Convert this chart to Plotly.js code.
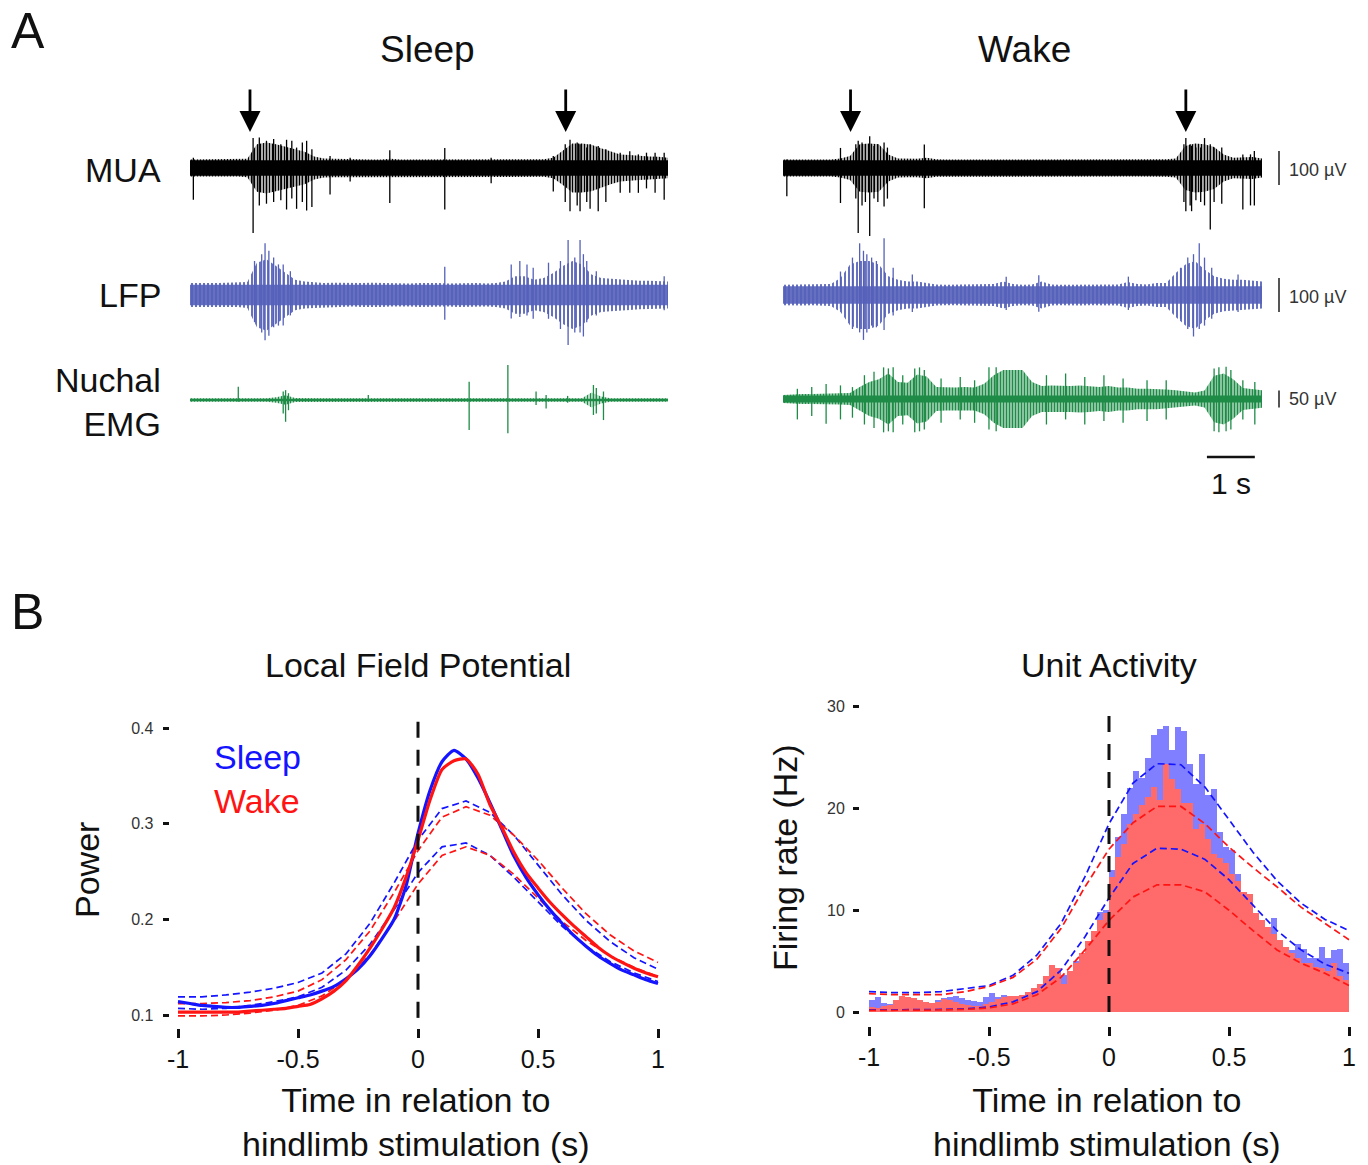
<!DOCTYPE html>
<html><head><meta charset="utf-8">
<script src="https://cdn.plot.ly/plotly-3.0.1.min.js"></script>
<style>html,body{margin:0;padding:0;background:#fff;}#chart{width:1368px;height:1165px;}</style>
</head><body><div id="chart"></div>
<script>
// ================= DATA =================
// Panel A: 10 s raw recordings. Envelope half-widths (µV) every 0.2 s, plus discrete spikes (time s, top µV, bottom µV)
const envStep = 0.2;
const sleepMuaEnv = [25,25,25,26,25,25,27,70,75,70, 62,55,48,34,28,27,26,26,25,25, 25,27,25,25,25,25,26,26,25,25, 25,25,25,25,25,25,26,26,30,50, 72,72,68,58,48,40,38,35,34,33, 30];
const sleepLfpEnv = [35,36,35,35,36,35,38,95,105,85, 65,45,40,38,35,36,35,34,35,36, 35,34,33,34,35,36,35,34,35,36, 35,34,35,40,55,55,45,50,65,85, 100,90,60,50,48,45,44,42,42,40, 40];
const sleepEmgEnv = [5,5,5,5,5,5,5,5,5,8, 14,6,5,5,5,5,5,5,5,5, 5,5,5,5,5,5,5,5,5,6, 5,5,5,5,5,5,6,7,5,5, 5,5,22,10,5,5,5,5,5,5, 5];
const wakeMuaEnv = [25,25,25,25,25,25,28,35,70,72, 70,40,28,27,27,30,26,25,25,25, 25,25,25,25,25,25,25,25,25,25, 25,25,25,25,25,25,25,25,25,25, 26,28,65,72,70,62,40,30,32,32, 28];
const wakeLfpEnv = [30,30,31,30,30,32,50,90,100,100, 90,55,45,40,40,35,31,30,30,31, 30,31,32,40,32,30,31,40,31,30, 30,31,30,31,30,31,38,32,31,35, 35,65,90,100,75,55,48,45,45,42, 40];
const wakeEmgEnv = [12,14,15,15,16,15,16,18,35,50, 58,75,50,48,72,66,35,34,34,35, 34,45,70,85,85,85,50,38,40,38, 38,40,38,35,38,34,34,30,30,30, 28,26,22,19,25,68,75,58,32,30, 26];
// solid background-noise core half-width (µV) of each recording
const coreWidth = {sleepMua:23, sleepLfp:30, sleepEmg:4, wakeMua:23, wakeLfp:26, wakeEmg:10};

const sleepMuaSpikeT  = [0.07,1.32,1.45,1.6,1.75,1.9,2.02,2.13,2.23,2.35,2.44,2.55,2.93,3.35,4.18,5.33,6.3,7.6,7.85,7.95,8.1,8.16,8.3,8.37,8.54,8.7,9.0,9.2,9.38,9.55,9.73,9.92];
const sleepMuaSpikeHi = [30,88,90,80,85,70,83,80,60,75,80,55,35,30,52,59,30,35,70,83,75,70,60,70,65,55,45,49,40,45,45,45];
const sleepMuaSpikeLo = [-93,-191,-110,-105,-100,-95,-122,-90,-120,-100,-125,-115,-78,-40,-103,-122,-45,-69,-100,-127,-110,-127,-100,-120,-127,-100,-73,-73,-73,-60,-73,-93];
const sleepLfpSpikeT  = [1.35,1.5,1.57,1.65,1.75,1.85,1.95,2.1,5.33,6.72,6.9,7.05,7.18,7.5,7.75,7.91,8.05,8.16,8.23,8.3,8.5,9.92];
const sleepLfpSpikeHi = [100,120,152,130,110,90,90,70,83,90,100,90,80,95,100,162,110,162,120,100,70,55];
const sleepLfpSpikeLo = [-80,-110,-133,-120,-95,-90,-90,-60,-73,-69,-65,-60,-70,-70,-100,-147,-110,-110,-122,-80,-60,-45];
const sleepEmgSpikeT  = [1.01,1.95,2.0,2.06,3.73,5.84,6.65,7.24,7.45,7.9,8.44,8.5,8.65];
const sleepEmgSpikeHi = [39,25,29,20,15,54,103,25,15,12,44,35,25];
const sleepEmgSpikeLo = [-5,-40,-64,-30,-5,-88,-98,-15,-25,-8,-44,-40,-59];
const wakeMuaSpikeT  = [0.08,1.2,1.52,1.57,1.65,1.72,1.81,1.9,1.98,2.11,2.18,2.95,8.37,8.41,8.5,8.53,8.62,8.72,8.8,8.92,9.0,9.16,9.6,9.76,9.84];
const wakeMuaSpikeHi = [25,59,70,80,75,70,93,65,70,75,60,69,70,88,70,65,60,60,88,70,60,60,40,40,50];
const wakeMuaSpikeLo = [-83,-103,-90,-191,-110,-100,-200,-90,-100,-113,-90,-118,-100,-127,-110,-127,-95,-100,-110,-181,-100,-105,-122,-110,-110];
const wakeLfpSpikeT  = [1.2,1.45,1.6,1.68,1.75,1.85,1.95,2.11,2.3,2.7,4.66,5.34,7.21,8.3,8.45,8.57,8.69,8.8,8.95,9.5];
const wakeLfpSpikeHi = [69,110,152,130,120,110,100,167,80,60,54,58,54,80,110,120,152,110,80,60];
const wakeLfpSpikeLo = [-40,-100,-110,-132,-110,-90,-95,-103,-60,-50,-44,-49,-44,-70,-100,-122,-100,-90,-70,-50];
const wakeEmgSpikeT  = [0.3,0.6,0.9,1.2,1.45,1.7,1.9,2.1,2.2,2.3,2.5,2.75,2.85,2.95,3.3,3.7,4.0,4.3,4.45,5.5,5.9,6.3,6.7,7.1,7.6,8.0,9.0,9.1,9.25,9.35,9.6,9.85];
const wakeEmgSpikeHi = [30,35,44,40,35,70,80,93,90,93,70,90,93,85,60,65,55,93,93,70,75,65,70,60,55,55,90,93,95,85,55,50];
const wakeEmgSpikeLo = [-60,-50,-73,-60,-55,-75,-85,-98,-95,-98,-75,-98,-95,-90,-70,-60,-70,-90,-95,-75,-60,-75,-65,-70,-65,-60,-95,-98,-95,-90,-60,-75];

const sleepStimTimes = [1.255, 7.86];
const wakeStimTimes = [1.41, 8.41];

// Panel B left: LFP power (0.05 s grid) and dashed bounds (0.1 s grid)
const lfpSleep = [0.114,0.112,0.110,0.109,0.108,0.108,0.109,0.110,0.112,0.115,0.118,0.121,0.125,0.130,0.138,0.148,0.162,0.180,0.200,0.235,0.290,0.335,0.365,0.377,0.368,0.348,0.322,0.294,0.266,0.244,0.226,0.210,0.196,0.183,0.172,0.162,0.154,0.147,0.142,0.137,0.133];
const lfpWake  = [0.103,0.103,0.103,0.103,0.103,0.103,0.104,0.105,0.106,0.107,0.109,0.111,0.117,0.125,0.136,0.152,0.170,0.190,0.212,0.244,0.283,0.325,0.357,0.366,0.368,0.352,0.320,0.296,0.270,0.249,0.233,0.218,0.205,0.193,0.182,0.171,0.162,0.155,0.149,0.144,0.140];
const lfpSleepUp = [0.119,0.119,0.121,0.124,0.128,0.134,0.144,0.164,0.196,0.238,0.283,0.316,0.324,0.312,0.288,0.257,0.226,0.199,0.177,0.160,0.148];
const lfpWakeUp  = [0.112,0.112,0.113,0.115,0.119,0.125,0.137,0.158,0.188,0.228,0.272,0.307,0.318,0.309,0.288,0.262,0.233,0.206,0.184,0.167,0.155];
const lfpSleepLo = [0.107,0.106,0.107,0.110,0.114,0.119,0.129,0.147,0.174,0.210,0.249,0.276,0.280,0.267,0.244,0.218,0.193,0.172,0.156,0.144,0.135];
const lfpWakeLo  = [0.099,0.099,0.100,0.102,0.105,0.110,0.120,0.137,0.163,0.198,0.237,0.267,0.276,0.267,0.247,0.222,0.198,0.178,0.162,0.150,0.140];

// Panel B right: firing-rate histograms (80 bins of 0.025 s from -1 to 1) and dashed bounds
const frSleep = [1.2,1.5,0.9,0.8,0.8,1.0,1.4,1.3,1.2,1.0, 0.9,1.2,1.4,1.5,1.6,1.4,1.2,1.1,1.0,1.5, 1.9,1.5,1.7,1.6,1.5,1.6,1.9,2.2,2.6,3.2, 4.4,4.0,3.6,3.9,5.0,5.8,6.9,8.0,9.8,10.0, 14.0,17.2,19.5,22.0,23.7,23.0,25.0,27.2,27.8,28.1, 25.7,28.0,27.6,24.4,22.4,25.4,21.3,21.9,17.7,16.2, 15.9,13.6,11.6,10.7,9.7,8.4,8.0,9.2,7.0,5.9, 6.1,6.7,6.2,5.3,5.3,6.4,5.3,6.1,6.2,4.8];
const frWake  = [0.5,0.4,0.6,0.7,1.2,1.6,1.5,1.4,1.2,1.0, 0.9,1.0,1.3,1.2,1.0,0.8,0.7,0.6,0.6,0.8, 1.0,1.3,1.5,1.6,1.6,1.7,2.0,2.4,2.8,3.5, 4.6,4.3,2.8,4.0,4.8,5.8,7.0,8.0,9.0,9.7, 13.3,15.2,16.5,18.5,19.5,20.3,21.1,22.1,20.8,24.4, 22.9,21.9,20.5,20.5,18.0,18.5,17.0,15.5,15.1,14.6, 13.6,12.9,11.8,11.6,9.7,9.0,8.4,7.7,7.1,6.4, 5.8,5.3,4.8,4.8,4.4,4.3,4.0,4.8,3.5,3.1];
const frSleepUp = [2.0,1.9,1.9,2.0,2.3,2.6,3.6,5.6,8.7,13.3,18.5,22.5,24.4,24.3,22.1,18.9,15.7,12.9,10.7,9.1,8.0];
const frWakeUp  = [1.8,1.7,1.7,1.7,2.0,2.5,3.4,5.2,8.2,12.3,16.0,18.6,20.2,20.2,18.5,16.2,14.2,12.3,10.3,8.7,7.1];
const frSleepLo = [0.2,0.2,0.2,0.25,0.3,0.5,1.0,2.0,4.1,7.4,11.2,14.6,16.1,16.0,15.0,13.0,10.5,8.0,6.1,4.7,3.8];
const frWakeLo  = [0.15,0.15,0.15,0.2,0.25,0.4,0.8,1.7,3.4,6.1,9.0,11.3,12.5,12.5,11.8,10.0,8.0,6.1,4.8,3.8,2.6];

const xTickVals = [-1,-0.5,0,0.5,1];
const xTickText = ['-1','-0.5','0','0.5','1'];
const powerTicks = [0.1,0.2,0.3,0.4];
const rateTicks = [0,10,20,30];

// ================= BUILD =================
const FONT = 'Liberation Sans, Arial, Helvetica, sans-serif';
const W = 1368, H = 1165;
const fx = p => p / W, fy = p => 1 - p / H;

const envT = sleepMuaEnv.map((_, i) => +(i * envStep).toFixed(2));
const lfpT = lfpSleep.map((_, i) => +(-1 + i * 0.05).toFixed(2));
const ciT = lfpSleepUp.map((_, i) => +(-1 + i * 0.1).toFixed(1));
const binW = 0.025;
const binCenters = frSleep.map((_, i) => -1 + binW * (i + 0.5));

const C_MUA = '#000000', C_LFP = '#5561b9', C_EMG = '#1e8c46';
const CORE_LFP = 'rgba(85,97,185,0.9)';
const BLUE = '#1414ff', RED = '#ff1414';

const traces = [];
function band(halfW, xa, ya, color, pattern) {
  const xs = envT.concat(envT.slice().reverse());
  const ys = halfW.concat(halfW.slice().reverse().map(v => -v));
  const tr = {type:'scatter', mode:'lines', x:xs, y:ys, xaxis:xa, yaxis:ya, fill:'toself',
    line:{color:'rgba(0,0,0,0)', width:0}, hoverinfo:'skip', showlegend:false};
  if (pattern) {
    tr.fillcolor = 'rgba(0,0,0,0)';
    tr.fillpattern = {shape:'|', size:pattern.size, solidity:pattern.solidity, fgcolor:pattern.color, bgcolor:'rgba(255,255,255,0)'};
  } else {
    tr.fillcolor = color;
  }
  traces.push(tr);
}
function addRaw(env, core, sT, sHi, sLo, xa, ya, color, coreColor, pat) {
  band(env, xa, ya, color, Object.assign({color:color}, pat));
  band(env.map(v => Math.min(v, core)), xa, ya, coreColor, null);
  const sx = [], sy = [];
  sT.forEach((t, i) => { sx.push(t, t, null); sy.push(sHi[i], sLo[i], null); });
  traces.push({type:'scatter', mode:'lines', x:sx, y:sy, xaxis:xa, yaxis:ya,
    line:{color:color, width:1.3}, hoverinfo:'skip', showlegend:false});
}
addRaw(sleepMuaEnv, coreWidth.sleepMua, sleepMuaSpikeT, sleepMuaSpikeHi, sleepMuaSpikeLo, 'x3', 'y3', C_MUA, C_MUA, {size:3, solidity:0.55});
addRaw(sleepLfpEnv, coreWidth.sleepLfp, sleepLfpSpikeT, sleepLfpSpikeHi, sleepLfpSpikeLo, 'x3', 'y4', C_LFP, CORE_LFP, {size:4, solidity:0.45});
addRaw(sleepEmgEnv, coreWidth.sleepEmg, sleepEmgSpikeT, sleepEmgSpikeHi, sleepEmgSpikeLo, 'x3', 'y5', C_EMG, C_EMG, {size:3, solidity:0.55});
addRaw(wakeMuaEnv, coreWidth.wakeMua, wakeMuaSpikeT, wakeMuaSpikeHi, wakeMuaSpikeLo, 'x4', 'y6', C_MUA, C_MUA, {size:3, solidity:0.55});
addRaw(wakeLfpEnv, coreWidth.wakeLfp, wakeLfpSpikeT, wakeLfpSpikeHi, wakeLfpSpikeLo, 'x4', 'y7', C_LFP, CORE_LFP, {size:4, solidity:0.45});
addRaw(wakeEmgEnv, coreWidth.wakeEmg, wakeEmgSpikeT, wakeEmgSpikeHi, wakeEmgSpikeLo, 'x4', 'y8', C_EMG, C_EMG, {size:3, solidity:0.68});

// Panel B left
const dashed = (y, color, xa, ya, x) => ({type:'scatter', mode:'lines', x:x, y:y, xaxis:xa, yaxis:ya,
  line:{color:color, width:1.7, dash:'7px,4px'}, hoverinfo:'skip', showlegend:false});
traces.push(dashed(lfpSleepUp, BLUE, 'x', 'y', ciT));
traces.push(dashed(lfpWakeUp, RED, 'x', 'y', ciT));
traces.push(dashed(lfpSleepLo, BLUE, 'x', 'y', ciT));
traces.push(dashed(lfpWakeLo, RED, 'x', 'y', ciT));
traces.push({type:'scatter', mode:'lines', x:lfpT, y:lfpSleep, xaxis:'x', yaxis:'y', name:'Sleep',
  line:{color:BLUE, width:3.2, shape:'spline', smoothing:0.6}, showlegend:false});
traces.push({type:'scatter', mode:'lines', x:lfpT, y:lfpWake, xaxis:'x', yaxis:'y', name:'Wake',
  line:{color:RED, width:3.2, shape:'spline', smoothing:0.6}, showlegend:false});

// Panel B right
traces.push({type:'bar', x:binCenters, y:frSleep, width:binW, xaxis:'x2', yaxis:'y2', name:'Sleep',
  marker:{color:'#7f7fff', line:{width:0}}, showlegend:false});
traces.push({type:'bar', x:binCenters, y:frWake, width:binW, xaxis:'x2', yaxis:'y2', name:'Wake',
  marker:{color:'#ff6a6a', line:{width:0}}, showlegend:false});
traces.push(dashed(frSleepUp, BLUE, 'x2', 'y2', ciT));
traces.push(dashed(frWakeUp, RED, 'x2', 'y2', ciT));
traces.push(dashed(frSleepLo, BLUE, 'x2', 'y2', ciT));
traces.push(dashed(frWakeLo, RED, 'x2', 'y2', ciT));

// ---------- layout ----------
const hidden = {visible:false, showgrid:false, zeroline:false, fixedrange:true};
const K = 2.94; // µV per pixel in panel A
function rowAxis(c, top, bot, anchor) {
  return Object.assign({}, hidden, {domain:[fy(bot), fy(top)], range:[-(bot - c) * K, (c - top) * K], anchor:anchor});
}
const tickCommon = {showline:false, zeroline:false, showgrid:false, ticks:'outside', tickcolor:'#111', fixedrange:true};

const layout = {
  width:W, height:H, margin:{l:0, r:0, t:0, b:0},
  paper_bgcolor:'#ffffff', plot_bgcolor:'rgba(0,0,0,0)',
  font:{family:FONT, color:'#111'}, showlegend:false, barmode:'overlay', bargap:0,
  xaxis3: Object.assign({}, hidden, {domain:[fx(190), fx(668)], range:[0, 10], anchor:'y3'}),
  xaxis4: Object.assign({}, hidden, {domain:[fx(783), fx(1262)], range:[0, 10], anchor:'y6'}),
  yaxis3: rowAxis(168, 88, 248, 'x3'),
  yaxis4: rowAxis(295, 225, 365, 'x3'),
  yaxis5: rowAxis(400, 340, 460, 'x3'),
  yaxis6: rowAxis(168, 88, 248, 'x4'),
  yaxis7: rowAxis(295, 225, 365, 'x4'),
  yaxis8: rowAxis(399, 340, 460, 'x4'),
  xaxis: Object.assign({}, tickCommon, {domain:[fx(169.6), fx(659.2)], range:[-1.035, 1.005], anchor:'y',
    ticklen:9, tickwidth:3, tickvals:xTickVals, ticktext:xTickText, tickfont:{family:FONT, size:25, color:'#111'}}),
  yaxis: Object.assign({}, tickCommon, {domain:[fy(1028), fy(714)], range:[0.0864, 0.415], anchor:'x',
    ticklen:6, tickwidth:3, tickvals:powerTicks, ticktext:powerTicks.map(v => v.toFixed(1)),
    tickfont:{family:FONT, size:16, color:'#333'}, ticklabelstandoff:6}),
  xaxis2: Object.assign({}, tickCommon, {domain:[fx(860), fx(1349.5)], range:[-1.0375, 1.0021], anchor:'y2',
    ticklen:9, tickwidth:3, tickvals:xTickVals, ticktext:xTickText, tickfont:{family:FONT, size:25, color:'#111'}}),
  yaxis2: Object.assign({}, tickCommon, {domain:[fy(1026), fy(700)], range:[-1.376, 30.66], anchor:'x2',
    ticklen:6, tickwidth:3, tickvals:rateTicks, ticktext:rateTicks.map(String),
    tickfont:{family:FONT, size:16, color:'#333'}, ticklabelstandoff:5}),
  shapes: [
    {type:'line', xref:'x', yref:'y', x0:0, x1:0, y0:0.097, y1:0.414, line:{color:'#111', width:3, dash:'16px,12px'}},
    {type:'line', xref:'x2', yref:'y2', x0:0, x1:0, y0:0, y1:29.2, line:{color:'#111', width:3, dash:'16px,12px'}},
    {type:'line', xref:'paper', yref:'y6', x0:fx(1279), x1:fx(1279), y0:-50, y1:50, line:{color:'#555', width:2}},
    {type:'line', xref:'paper', yref:'y7', x0:fx(1279), x1:fx(1279), y0:-50, y1:50, line:{color:'#555', width:2}},
    {type:'line', xref:'paper', yref:'y8', x0:fx(1279), x1:fx(1279), y0:-25, y1:25, line:{color:'#555', width:2}},
    {type:'line', xref:'x4', yref:'paper', x0:8.85, x1:9.85, y0:fy(457), y1:fy(457), line:{color:'#111', width:2.5}}
  ],
  annotations: []
};

const A = layout.annotations;
function txt(text, x, y, size, opts) {
  A.push(Object.assign({text:text, x:x, y:y, xref:'paper', yref:'paper', showarrow:false,
    xanchor:'center', yanchor:'middle', font:{family:FONT, size:size, color:'#111'}}, opts || {}));
}
txt('A', fx(9), fy(31), 50, {xanchor:'left'});
txt('B', fx(9), fy(612), 50, {xanchor:'left'});
txt('Sleep', fx(427), fy(50), 37);
txt('Wake', fx(1024), fy(50), 37);
txt('MUA', fx(163), fy(170), 34, {xanchor:'right'});
txt('LFP', fx(163), fy(295), 34, {xanchor:'right'});
txt('Nuchal<br>EMG', fx(163), fy(402), 34, {xanchor:'right', align:'right'});
txt('100 µV', fx(1287), 0, 18, {xanchor:'left', yref:'y6', yshift:-2, font:{family:FONT, size:18, color:'#333'}});
txt('100 µV', fx(1287), 0, 18, {xanchor:'left', yref:'y7', yshift:-2, font:{family:FONT, size:18, color:'#333'}});
txt('50 µV', fx(1287), 0, 18, {xanchor:'left', yref:'y8', font:{family:FONT, size:18, color:'#333'}});
txt('1 s', 9.35, fy(483), 30, {xref:'x4'});
txt('Local Field Potential', fx(418), fy(665), 34);
txt('Unit Activity', fx(1109), fy(665), 34);
txt('Sleep', fx(212), fy(757), 34, {xanchor:'left', font:{family:FONT, size:34, color:BLUE}});
txt('Wake', fx(212), fy(801), 34, {xanchor:'left', font:{family:FONT, size:34, color:RED}});
txt('Power', fx(87), fy(870), 34, {textangle:-90});
txt('Firing rate (Hz)', fx(785), fy(858), 34, {textangle:-90});
txt('Time in relation to<br>hindlimb stimulation (s)', fx(416), fy(1122), 34);
txt('Time in relation to<br>hindlimb stimulation (s)', fx(1107), fy(1122), 34);

function arrow(t, xa) {
  A.push({text:'', x:t, xref:xa, y:fy(132), yref:'paper', showarrow:true, ax:0, ay:-44,
    arrowhead:2, arrowsize:1.5, arrowwidth:2.8, arrowcolor:'#000'});
}
sleepStimTimes.forEach(t => arrow(t, 'x3'));
wakeStimTimes.forEach(t => arrow(t, 'x4'));

Plotly.newPlot('chart', traces, layout, {staticPlot:true, displayModeBar:false});
</script>
</body></html>
